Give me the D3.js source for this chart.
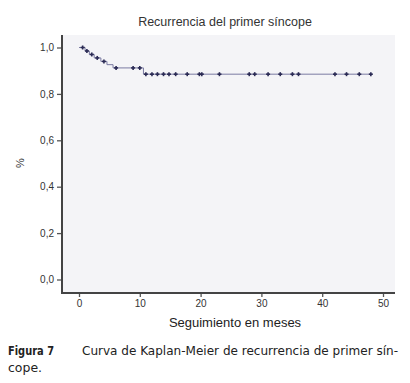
<!DOCTYPE html>
<html><head><meta charset="utf-8">
<script src="https://cdn.jsdelivr.net/npm/d3@7"></script>
<style>body{margin:0;background:#fff}svg{display:block}</style>
</head><body>
<svg id="c" width="410" height="383"></svg>
<script>
// Kaplan-Meier step values (time in months, survival)
const stepTimes = [0, 1.0, 1.7, 2.5, 3.6, 4.6, 5.6, 10.6];
const stepSurv  = [1.0, 0.985, 0.97, 0.955, 0.94, 0.926, 0.912, 0.885];
// censored observations (months)
const censorTimes = [0.6, 1.3, 2.1, 3.0, 4.1, 6.1, 8.9, 10.0, 11.0, 12.0, 12.9, 13.9, 14.8, 15.9, 17.8, 19.8,
  20.2, 23.1, 28.0, 28.9, 31.1, 33.1, 35.1, 36.1, 42.1, 44.0, 46.1, 48.0];
const endTime = 48.0;
const xTicks = [0, 10, 20, 30, 40, 50];
const yTicks = [0, 0.2, 0.4, 0.6, 0.8, 1.0];
const title = "Recurrencia del primer síncope";
const xTitle = "Seguimiento en meses";
const yTitle = "%";

const svg = d3.select("#c");
const x = d3.scaleLinear().domain([0, 50]).range([79, 383]);
const y = d3.scaleLinear().domain([0, 1]).range([279.5, 47.5]);
const panel = {l: 62, r: 395, t: 35, b: 293};

svg.append("rect").attr("x", panel.l).attr("y", panel.t)
  .attr("width", panel.r - panel.l).attr("height", panel.b - panel.t).attr("fill", "#f4f4f7");

svg.append("text").attr("x", 225).attr("y", 26).attr("text-anchor", "middle")
  .attr("font-family", "Liberation Sans, Arial, sans-serif").attr("font-size", 12.5).attr("fill", "#333")
  .text(title);

// axes
const fmt = d => d3.format(".1f")(d).replace(".", ",");
const yAxis = d3.axisLeft(y).tickValues(yTicks).tickFormat(fmt).tickSize(5).tickPadding(3);
const gy = svg.append("g").attr("transform", `translate(${panel.l},0)`).call(yAxis);
gy.select(".domain").remove();
const xAxis = d3.axisBottom(x).tickValues(xTicks).tickFormat(d3.format("d")).tickSize(4).tickPadding(3);
const gx = svg.append("g").attr("transform", `translate(0,${panel.b})`).call(xAxis);
gx.select(".domain").remove();
[gx, gy].forEach(g => {
  g.selectAll("line").attr("stroke", "#555").attr("stroke-width", 1.3);
  g.selectAll("text").attr("font-family", "Liberation Sans, Arial, sans-serif").attr("font-size", 10).attr("fill", "#333");
});
svg.append("line").attr("x1", panel.l).attr("x2", panel.l).attr("y1", panel.t).attr("y2", panel.b + 1)
  .attr("stroke", "#444").attr("stroke-width", 2);
svg.append("line").attr("x1", panel.l - 1).attr("x2", panel.r).attr("y1", panel.b).attr("y2", panel.b)
  .attr("stroke", "#444").attr("stroke-width", 2);

svg.append("text").attr("x", 235).attr("y", 327).attr("text-anchor", "middle")
  .attr("font-family", "Liberation Sans, Arial, sans-serif").attr("font-size", 13).attr("fill", "#222")
  .text(xTitle);
svg.append("text").attr("transform", "translate(24,163) rotate(-90)").attr("text-anchor", "middle")
  .attr("font-family", "Liberation Sans, Arial, sans-serif").attr("font-size", 11).attr("fill", "#333")
  .text(yTitle);

// KM curve
const pts = stepTimes.map((t, i) => [t, stepSurv[i]]);
pts.push([endTime, stepSurv[stepSurv.length - 1]]);
const line = d3.line().x(d => x(d[0])).y(d => y(d[1])).curve(d3.curveStepAfter);
svg.append("path").datum(pts).attr("d", line).attr("fill", "none")
  .attr("stroke", "#7a7aa2").attr("stroke-width", 1);

const survAt = t => stepSurv[d3.bisectRight(stepTimes, t) - 1];
const cg = svg.append("g");
censorTimes.forEach(t => {
  const cx = x(t), cy = y(survAt(t));
  cg.append("line").attr("x1", cx).attr("x2", cx).attr("y1", cy - 2).attr("y2", cy + 2)
    .attr("stroke", "#2b2b55").attr("stroke-width", 1.6);
  cg.append("line").attr("x1", cx - 2).attr("x2", cx + 2).attr("y1", cy).attr("y2", cy)
    .attr("stroke", "#2b2b55").attr("stroke-width", 1.6);
});

// caption
svg.append("text").attr("x", 8).attr("y", 355)
  .attr("font-family", "DejaVu Sans, sans-serif").attr("font-size", 11.5).attr("font-weight", "bold").attr("fill", "#222")
  .attr("textLength", 46).attr("lengthAdjust", "spacingAndGlyphs")
  .text("Figura 7");
svg.append("text").attr("x", 82).attr("y", 355)
  .attr("font-family", "DejaVu Sans, sans-serif").attr("font-size", 11.5).attr("fill", "#222")
  .attr("textLength", 316).attr("lengthAdjust", "spacingAndGlyphs")
  .text("Curva de Kaplan-Meier de recurrencia de primer sín-");
svg.append("text").attr("x", 8).attr("y", 372)
  .attr("font-family", "DejaVu Sans, sans-serif").attr("font-size", 11.5).attr("fill", "#222")
  .attr("textLength", 34).attr("lengthAdjust", "spacingAndGlyphs")
  .text("cope.");
</script>
</body></html>
